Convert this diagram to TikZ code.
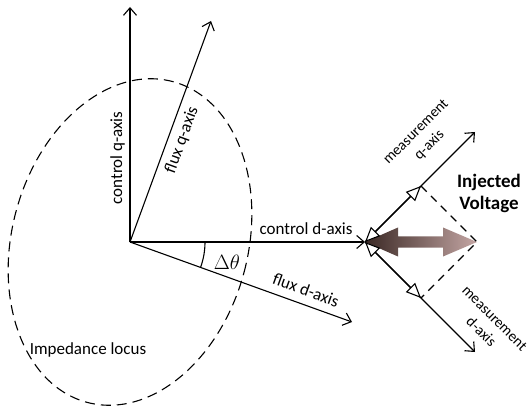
\documentclass[tikz,border=0pt]{standalone}
\usepackage{fontspec}
\setmainfont{Carlito}
\usetikzlibrary{arrows.meta}
\definecolor{arrdark}{RGB}{58,40,36}
\definecolor{arrlight}{RGB}{196,166,164}
\tikzset{
  axis/.style={line width=1.1pt, -{Straight Barb[length=7.5pt,width=13pt]}},
  proj/.style={line width=1.1pt, {Triangle[open,length=15pt,width=13pt,fill=white]}-{Triangle[open,length=15pt,width=13pt,fill=white]}},
  dashline/.style={line width=1.1pt, dash pattern=on 8pt off 6pt},
  lbl/.style={font=\fontsize{17}{20}\selectfont, inner sep=0pt},
  mlbl/.style={font=\fontsize{15}{19}\selectfont, inner sep=0pt, align=center},
}
\begin{document}
\begin{tikzpicture}[x=1pt,y=1pt]
\useasboundingbox (0,0) rectangle (529,407);
% coordinates
\coordinate (O) at (130,165);
\coordinate (cq) at (130,400);
\coordinate (fq) at (211,386);
\coordinate (X) at (365,165);
\coordinate (fd) at (352,85);
\coordinate (mq) at (475,275);
\coordinate (md) at (475,55);
\coordinate (P) at (477,165);
\coordinate (Pq) at (421,221);
\coordinate (Pd) at (421,109);
% impedance locus
\draw[line width=1.1pt, dash pattern=on 10pt off 6pt] (O) ellipse [x radius=118, y radius=166, rotate=-15];
% injected voltage arrow
\shade[left color=arrdark, right color=arrlight]
  (365,165) -- (398,179.5) -- (398,170.5) -- (443,170.5) -- (443,179.5) -- (477,165)
  -- (443,150.5) -- (443,159.5) -- (398,159.5) -- (398,150.5) -- cycle;
% axes
\draw[axis] (O) -- (cq);
\draw[axis] (O) -- (fq);
\draw[axis] (O) -- (X);
\draw[axis] (O) -- (fd);
\draw[axis] (X) -- (mq);
\draw[axis] (X) -- (md);
% projections
\draw[proj] (X) -- (Pq);
\draw[proj] (X) -- (Pd);
\draw[dashline] (Pq) -- (P) -- (Pd);
% angle
\draw[line width=1.1pt] (O) ++(0:75) arc[start angle=0, end angle=-20, radius=75];
% labels
\node[lbl, rotate=90] (lcq) at (117.5,249) {control q-axis};
\node[lbl, rotate=70] (lfq) at (182,267) {flux q-axis};
\node[lbl] (lcd) at (306,178) {control d-axis};
\node[lbl, rotate=-20] (lfd) at (306,117) {flux d-axis};
\node[inner sep=0pt, font=\fontsize{20}{24}\selectfont] (lth) at (227,145) {$\Delta\theta$};
\node[lbl] (lil) at (88,57) {Impedance locus};
\node[mlbl, rotate=45] (lmq) at (423,268) {measurement\\q-axis};
\node[mlbl, rotate=-45] (lmd) at (488,82) {measurement\\d-axis};
\node[inner sep=0pt, align=center, font=\fontsize{19}{22}\selectfont\bfseries] (liv) at (489,214) {Injected\\Voltage};
\end{tikzpicture}
\end{document}
